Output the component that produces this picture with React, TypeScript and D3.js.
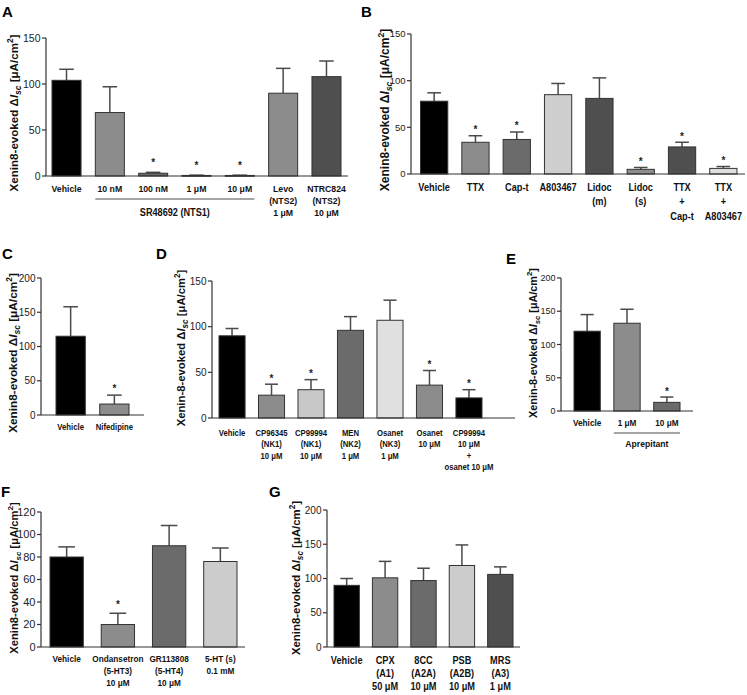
import React from 'react';
import * as d3 from 'd3';

const FONT = '"Liberation Sans", Arial, Helvetica, sans-serif';

// ---------- Panel A ----------
const aCategories = ['Vehicle', '10 nM', '100 nM', '1 μM', '10 μM', 'Levo', 'NTRC824'];
const aLabels = [['Vehicle'], ['10 nM'], ['100 nM'], ['1 μM'], ['10 μM'], ['Levo', '(NTS2)', '1 μM'], ['NTRC824', '(NTS2)', '10 μM']];
const aMeans = [104, 69, 3, 0.6, 0.6, 90, 108];
const aErrors = [12, 28, 1, 0.3, 0.3, 27, 17];
const aStars = [false, false, true, true, true, false, false];
const aColors = ['#000000', '#8c8c8c', '#6b6b6b', '#555555', '#555555', '#8c8c8c', '#4f4f4f'];
const aTicks = [0, 50, 100, 150];
const aGroup = { label: 'SR48692 (NTS1)', from: 1, to: 4 };

// ---------- Panel B ----------
const bCategories = ['Vehicle', 'TTX', 'Cap-t', 'A803467', 'Lidoc (m)', 'Lidoc (s)', 'TTX + Cap-t', 'TTX + A803467'];
const bLabels = [['Vehicle'], ['TTX'], ['Cap-t'], ['A803467'], ['Lidoc', '(m)'], ['Lidoc', '(s)'], ['TTX', '+', 'Cap-t'], ['TTX', '+', 'A803467']];
const bMeans = [78, 34, 37, 85, 81, 5, 29, 6];
const bErrors = [9, 7, 8, 12, 22, 2, 5, 2];
const bStars = [false, true, true, false, false, true, true, true];
const bColors = ['#000000', '#8c8c8c', '#6b6b6b', '#cfcfcf', '#4f4f4f', '#8c8c8c', '#4f4f4f', '#dedede'];
const bTicks = [0, 50, 100, 150];

// ---------- Panel C ----------
const cCategories = ['Vehicle', 'Nifedipine'];
const cLabels = [['Vehicle'], ['Nifedipine']];
const cMeans = [115, 16];
const cErrors = [43, 13];
const cStars = [false, true];
const cColors = ['#000000', '#8c8c8c'];
const cTicks = [0, 50, 100, 150, 200];

// ---------- Panel D ----------
const dCategories = ['Vehicle', 'CP96345', 'CP99994', 'MEN', 'Osanet NK3', 'Osanet 10', 'CP99994 + osanet'];
const dLabels = [['Vehicle'], ['CP96345', '(NK1)', '10 μM'], ['CP99994', '(NK1)', '10 μM'], ['MEN', '(NK2)', '1 μM'], ['Osanet', '(NK3)', '1 μM'], ['Osanet', '10 μM'], ['CP99994', '10 μM', '+', 'osanet 10 μM']];
const dMeans = [90, 25, 31, 96, 107, 36, 22];
const dErrors = [8, 12, 11, 15, 22, 16, 9];
const dStars = [false, true, true, false, false, true, true];
const dColors = ['#000000', '#8c8c8c', '#c8c8c8', '#6b6b6b', '#e0e0e0', '#8c8c8c', '#000000'];
const dTicks = [0, 50, 100, 150];

// ---------- Panel E ----------
const eCategories = ['Vehicle', '1 μM', '10 μM'];
const eLabels = [['Vehicle'], ['1 μM'], ['10 μM']];
const eMeans = [120, 132, 13];
const eErrors = [25, 21, 8];
const eStars = [false, false, true];
const eColors = ['#000000', '#8c8c8c', '#6b6b6b'];
const eTicks = [0, 50, 100, 150, 200];
const eGroup = { label: 'Aprepitant', from: 1, to: 2 };

// ---------- Panel F ----------
const fCategories = ['Vehicle', 'Ondansetron', 'GR113808', '5-HT (s)'];
const fLabels = [['Vehicle'], ['Ondansetron', '(5-HT3)', '10 μM'], ['GR113808', '(5-HT4)', '10 μM'], ['5-HT (s)', '0.1 mM']];
const fMeans = [80, 20, 90, 76];
const fErrors = [9, 10, 18, 12];
const fStars = [false, true, false, false];
const fColors = ['#000000', '#8c8c8c', '#6b6b6b', '#cccccc'];
const fTicks = [0, 20, 40, 60, 80, 100, 120];

// ---------- Panel G ----------
const gCategories = ['Vehicle', 'CPX', '8CC', 'PSB', 'MRS'];
const gLabels = [['Vehicle'], ['CPX', '(A1)', '50 μM'], ['8CC', '(A2A)', '10 μM'], ['PSB', '(A2B)', '10 μM'], ['MRS', '(A3)', '1 μM']];
const gMeans = [90, 101, 97, 119, 106];
const gErrors = [10, 24, 18, 30, 11];
const gStars = [false, false, false, false, false];
const gColors = ['#000000', '#8c8c8c', '#6b6b6b', '#cccccc', '#4f4f4f'];
const gTicks = [0, 50, 100, 150, 200];

type Layout = {
  axisX: number; xEnd: number; y0: number; yTop: number;
  barL: number; barR: number; pad: number;
  tickFont: number; catFont: number; rowBase: number; rowGap: number;
  yl: { x: number; y: number; size: number; text: string };
  letter: { x: number; y: number; t: string };
  starGap: number;
  groupLineY?: number; groupTextY?: number;
};

type PanelProps = {
  cats: string[]; labels: string[][]; means: number[]; errors: number[]; stars: boolean[];
  colors: string[]; ticks: number[]; group?: { label: string; from: number; to: number };
  L: Layout;
};

const SX = 0.88; // horizontal condensation of the category labels

function CatText({ x, y, size, children }: { x: number; y: number; size: number; children: React.ReactNode }) {
  return (
    <text transform={`translate(${x},${y}) scale(${SX},1)`} textAnchor="middle" fontSize={size} fontWeight="bold" fill="#111">{children}</text>
  );
}

function Panel({ cats, labels, means, errors, stars, colors, ticks, group, L }: PanelProps) {
  const yMax = ticks[ticks.length - 1];
  const x = d3.scaleBand<string>().domain(cats).range([L.barL, L.barR]).paddingInner(L.pad).paddingOuter(0);
  const y = d3.scaleLinear().domain([0, yMax]).range([L.y0, L.yTop]);
  const bw = x.bandwidth();
  const axisColor = '#333';
  const s = L.yl.size;
  const cf = L.catFont * 1.1;
  return (
    <g fontFamily={FONT}>
      <text x={L.letter.x} y={L.letter.y} fontSize={15} fontWeight="bold" fill="#000">{L.letter.t}</text>
      <text transform={`translate(${L.yl.x},${L.yl.y}) rotate(-90)`} textAnchor="middle" fontWeight="bold" fontSize={s} fill="#111">
        {L.yl.text} Δ<tspan fontStyle="italic">I</tspan>
        <tspan fontStyle="italic" fontSize={s * 0.72} dy={s * 0.28}>sc</tspan>
        <tspan dy={-s * 0.28}> [μA/cm</tspan>
        <tspan fontSize={s * 0.72} dy={-s * 0.42}>2</tspan>
        <tspan dy={s * 0.42}>]</tspan>
      </text>
      {cats.map((c, i) => {
        const x0 = x(c)!;
        const top = y(means[i]);
        const cap = y(means[i] + errors[i]);
        const cx = x0 + bw / 2;
        return (
          <g key={c}>
            <line x1={cx} x2={cx} y1={top} y2={cap} stroke="#4a4a4a" strokeWidth={1.5} />
            <line x1={cx - bw * 0.25} x2={cx + bw * 0.25} y1={cap} y2={cap} stroke="#4a4a4a" strokeWidth={1.5} />
            <rect x={x0} y={top} width={bw} height={Math.max(0.8, L.y0 - top)} fill={colors[i]} stroke="#333" strokeWidth={1} />
            {stars[i] && (
              <text x={cx} y={cap - L.starGap + 5.8} textAnchor="middle" fontSize={10} fontWeight="bold" fill="#222">*</text>
            )}
            {labels[i].map((t, k) => (
              <CatText key={k} x={cx} y={L.rowBase + k * L.rowGap} size={cf}>{t}</CatText>
            ))}
          </g>
        );
      })}
      <line x1={L.axisX} x2={L.axisX} y1={L.y0} y2={L.yTop} stroke={axisColor} strokeWidth={1.2} />
      <line x1={L.axisX} x2={L.xEnd} y1={L.y0} y2={L.y0} stroke={axisColor} strokeWidth={1.2} />
      {ticks.map((t) => (
        <g key={t}>
          <line x1={L.axisX - 4} x2={L.axisX} y1={y(t)} y2={y(t)} stroke={axisColor} strokeWidth={1.2} />
          <text x={L.axisX - 5.5} y={y(t)} dy="0.35em" textAnchor="end" fontSize={L.tickFont} fill="#222">{t}</text>
        </g>
      ))}
      {group && (
        <g>
          <line x1={x(cats[group.from])!} x2={x(cats[group.to])! + bw} y1={L.groupLineY} y2={L.groupLineY} stroke="#888" strokeWidth={1.6} />
          <CatText x={(x(cats[group.from])! + x(cats[group.to])! + bw) / 2} y={L.groupTextY!} size={cf * 1.05}>{group.label}</CatText>
        </g>
      )}
    </g>
  );
}

const LA: Layout = { axisX: 46, xEnd: 348, y0: 176, yTop: 38, barL: 52, barR: 341, pad: 0.33, tickFont: 10.5, catFont: 9, rowBase: 191.5, rowGap: 12, yl: { x: 18, y: 113, size: 11.6, text: 'Xenin8-evoked' }, letter: { x: 2, y: 17, t: 'A' }, starGap: 12, groupLineY: 199, groupTextY: 216 };
const LB: Layout = { axisX: 411, xEnd: 745, y0: 174, yTop: 34, barL: 420.5, barR: 737, pad: 0.34, tickFont: 9.5, catFont: 9.5, rowBase: 190.5, rowGap: 14.8, yl: { x: 389, y: 110, size: 12, text: 'Xenin8-evoked' }, letter: { x: 361, y: 17, t: 'B' }, starGap: 8.5 };
const LC: Layout = { axisX: 41, xEnd: 144, y0: 415, yTop: 278, barL: 56, barR: 129, pad: 0.33, tickFont: 10, catFont: 8, rowBase: 430, rowGap: 11, yl: { x: 17, y: 353, size: 11.8, text: 'Xenin8-evoked' }, letter: { x: 2, y: 259, t: 'C' }, starGap: 8.5 };
const LD: Layout = { axisX: 212, xEnd: 515, y0: 418, yTop: 281, barL: 219, barR: 482, pad: 0.34, tickFont: 10, catFont: 8, rowBase: 436, rowGap: 11.3, yl: { x: 185, y: 348, size: 11.3, text: 'Xenin-8-evoked' }, letter: { x: 156, y: 259, t: 'D' }, starGap: 8.5 };
const LE: Layout = { axisX: 561, xEnd: 693, y0: 411, yTop: 278, barL: 574, barR: 680, pad: 0.34, tickFont: 9, catFont: 8.5, rowBase: 426, rowGap: 11, yl: { x: 537, y: 343, size: 10.8, text: 'Xenin-8-evoked' }, letter: { x: 506, y: 264, t: 'E' }, starGap: 7.5, groupLineY: 433, groupTextY: 446.5 };
const LF: Layout = { axisX: 41, xEnd: 245, y0: 647, yTop: 512, barL: 50, barR: 237, pad: 0.35, tickFont: 11, catFont: 8.5, rowBase: 662, rowGap: 12, yl: { x: 18, y: 578, size: 11.2, text: 'Xenin8-evoked' }, letter: { x: 1, y: 497, t: 'F' }, starGap: 11 };
const LG: Layout = { axisX: 327, xEnd: 520, y0: 647, yTop: 510, barL: 334, barR: 513, pad: 0.34, tickFont: 10, catFont: 9.5, rowBase: 663.5, rowGap: 13.3, yl: { x: 300, y: 578, size: 11.4, text: 'Xenin8-evoked' }, letter: { x: 269, y: 497, t: 'G' }, starGap: 8.5 };

export default function App() {
  return (
    <svg width={747} height={695} style={{ position: 'absolute', left: 0, top: 0, background: '#fff' }}>
      <rect width={747} height={695} fill="#fff" />
      <Panel cats={aCategories} labels={aLabels} means={aMeans} errors={aErrors} stars={aStars} colors={aColors} ticks={aTicks} group={aGroup} L={LA} />
      <Panel cats={bCategories} labels={bLabels} means={bMeans} errors={bErrors} stars={bStars} colors={bColors} ticks={bTicks} L={LB} />
      <Panel cats={cCategories} labels={cLabels} means={cMeans} errors={cErrors} stars={cStars} colors={cColors} ticks={cTicks} L={LC} />
      <Panel cats={dCategories} labels={dLabels} means={dMeans} errors={dErrors} stars={dStars} colors={dColors} ticks={dTicks} L={LD} />
      <Panel cats={eCategories} labels={eLabels} means={eMeans} errors={eErrors} stars={eStars} colors={eColors} ticks={eTicks} group={eGroup} L={LE} />
      <Panel cats={fCategories} labels={fLabels} means={fMeans} errors={fErrors} stars={fStars} colors={fColors} ticks={fTicks} L={LF} />
      <Panel cats={gCategories} labels={gLabels} means={gMeans} errors={gErrors} stars={gStars} colors={gColors} ticks={gTicks} L={LG} />
    </svg>
  );
}
